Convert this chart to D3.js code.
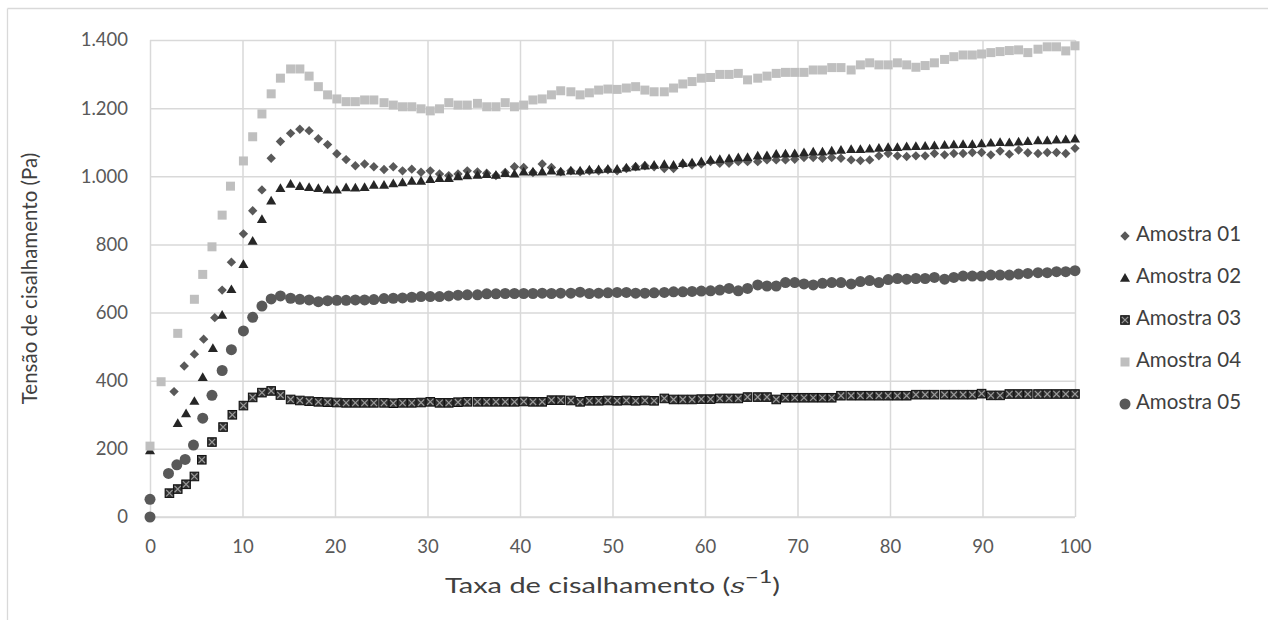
<!DOCTYPE html>
<html>
<head>
<meta charset="utf-8">
<script src="https://cdn.jsdelivr.net/npm/d3@7"></script>
<style>
  body { margin: 0; background: #fff; }
  svg { display: block; font-family: Lato, "Open Sans", sans-serif; }
</style>
</head>
<body>
<svg width="1268" height="620"></svg>
<script>
// measured shear rates (s^-1) for the regular part of the ramp
var rates = [10.1, 11.1, 12.1, 13.1, 14.1, 15.2, 16.2, 17.2, 18.2, 19.2,
  20.2, 21.2, 22.2, 23.2, 24.2, 25.3, 26.3, 27.3, 28.3, 29.3,
  30.3, 31.3, 32.3, 33.3, 34.3, 35.4, 36.4, 37.4, 38.4, 39.4,
  40.4, 41.4, 42.4, 43.4, 44.4, 45.5, 46.5, 47.5, 48.5, 49.5,
  50.5, 51.5, 52.5, 53.5, 54.5, 55.6, 56.6, 57.6, 58.6, 59.6,
  60.6, 61.6, 62.6, 63.6, 64.6, 65.7, 66.7, 67.7, 68.7, 69.7,
  70.7, 71.7, 72.7, 73.7, 74.7, 75.8, 76.8, 77.8, 78.8, 79.8,
  80.8, 81.8, 82.8, 83.8, 84.8, 85.9, 86.9, 87.9, 88.9, 89.9,
  90.9, 91.9, 92.9, 93.9, 94.9, 96.0, 97.0, 98.0, 99.0, 100.0];

// start-up points (rate, stress) for each sample
var head01 = [[2.6,368],[3.7,443],[4.8,478],[5.8,522],[7.0,585],[7.8,666],[8.8,748]];
var head02 = [[0,195],[3.0,275],[3.9,304],[4.8,340],[5.7,410],[6.8,495],[7.8,593],[8.8,668]];
var head03 = [[2.1,70],[3.0,82],[3.9,96],[4.8,119],[5.6,168],[6.7,220],[7.9,264],[8.9,300]];
var head04 = [[0,208],[1.2,397],[3.0,539],[4.8,639],[5.7,712],[6.7,793],[7.8,886],[8.7,971]];
var head05 = [[0,0],[0,52],[2.0,128],[2.9,153],[3.8,169],[4.7,211],[5.7,290],[6.7,357],[7.8,430],[8.8,491]];

// stress (Pa) at each of the rates above
var amostra01 = [831, 899, 960, 1053, 1102, 1126, 1138, 1134, 1110, 1093, 1066, 1049,
  1031, 1036, 1028, 1020, 1028, 1016, 1021, 1012, 1016, 1007, 1002, 1007, 1016, 1013, 1009, 1002, 1011, 1028,
  1026, 1011, 1036, 1026, 1013, 1016, 1013, 1016, 1016, 1019, 1016, 1023, 1028, 1031, 1028, 1023, 1023, 1036,
  1033, 1036, 1043,
  1038, 1038, 1043, 1043, 1043, 1048, 1048, 1048, 1050, 1055, 1055, 1053, 1055, 1053, 1048, 1046, 1048, 1060,
  1067, 1060, 1058, 1060, 1060, 1067, 1063, 1067, 1067, 1070, 1070, 1063, 1074, 1065, 1077, 1069, 1067, 1070,
  1070, 1067, 1082];
var amostra02 = [742, 810, 874, 928, 965, 977, 971, 968, 965, 960, 960, 967,
  966, 968, 974, 974, 979, 982, 986, 986, 991, 994, 994, 999, 1002, 1004, 1006, 1004, 1009, 1007,
  1013, 1013, 1013, 1016, 1013, 1016, 1016, 1019, 1020, 1021, 1021, 1025, 1028, 1031, 1033, 1035, 1033, 1038,
  1040, 1043, 1048,
  1050, 1052, 1055, 1056, 1060, 1061, 1065, 1066, 1067, 1070, 1072, 1072, 1075, 1077, 1079, 1079, 1081, 1083,
  1085, 1085, 1087, 1088, 1089, 1090, 1092, 1093, 1094, 1094, 1096, 1098, 1100, 1099, 1101, 1103, 1105, 1105,
  1107, 1108, 1110];
var amostra03 = [327, 351, 365, 370, 358, 345, 342, 340, 338, 337, 336, 335,
  335, 335, 335, 335, 334, 335, 335, 336, 338, 335, 335, 337, 338, 338, 338, 338, 338, 338,
  339, 338, 338, 343, 343, 342, 338, 341, 341, 342, 341, 342, 341, 342, 341, 348, 345, 345,
  345, 346, 346,
  348, 348, 348, 352, 352, 352, 345, 350, 350, 350, 350, 350, 350, 356, 356, 356, 356, 356,
  356, 356, 356, 359, 359, 359, 359, 359, 359, 359, 362, 357, 357, 361, 361, 361, 361, 361,
  361, 361, 361];
var amostra04 = [1045, 1116, 1183, 1242, 1288, 1315, 1315, 1294, 1263, 1239, 1227, 1219,
  1219, 1224, 1224, 1216, 1209, 1204, 1204, 1198, 1192, 1198, 1216, 1209, 1209, 1214, 1204, 1204, 1216, 1204,
  1209, 1224, 1227, 1239, 1251, 1248, 1239, 1245, 1253, 1256, 1255, 1259, 1263, 1253, 1248, 1248, 1259, 1271,
  1278, 1288, 1290,
  1299, 1299, 1302, 1283, 1288, 1294, 1302, 1305, 1305, 1305, 1312, 1312, 1319, 1319, 1312, 1327, 1333, 1327,
  1327, 1333, 1327, 1320, 1325, 1333, 1343, 1351, 1356, 1356, 1359, 1363, 1366, 1369, 1371, 1363, 1373, 1380,
  1380, 1368, 1383];
var amostra05 = [546, 586, 619, 640, 649, 642, 639, 637, 632, 635, 636, 636,
  637, 637, 638, 641, 642, 643, 645, 647, 647, 647, 649, 651, 652, 652, 655, 655, 656, 656,
  656, 656, 657, 656, 657, 657, 660, 656, 657, 658, 659, 659, 657, 657, 658, 659, 661, 661,
  662, 663, 664,
  666, 671, 664, 671, 681, 678, 678, 688, 688, 684, 681, 686, 688, 688, 684, 691, 694, 688,
  697, 700, 698, 700, 700, 703, 698, 703, 707, 707, 707, 710, 710, 710, 713, 715, 717, 717,
  720, 720, 723];

var seriesNames = ['Amostra 01', 'Amostra 02', 'Amostra 03', 'Amostra 04', 'Amostra 05'];
var xTicks = [0, 10, 20, 30, 40, 50, 60, 70, 80, 90, 100];
var yTicks = [0, 200, 400, 600, 800, 1000, 1200, 1400];

var heads = [head01, head02, head03, head04, head05];
var tails = [amostra01, amostra02, amostra03, amostra04, amostra05];

var series = seriesNames.map(function(name, i){
  var pts = heads[i].map(function(p){ return {x: p[0], y: p[1]} })
  tails[i].forEach(function(v, j){ pts.push({x: rates[j], y: v}) })
  return {name: name, kind: i, points: pts}
})

var svg = d3.select('svg')
var grid = '#d9d9d9'

var margins = {left: 150, right: 193, top: 40, bottom: 103}
var xScale = d3.scaleLinear().domain([0, 100]).range([margins.left, 1268 - margins.right])
var yScale = d3.scaleLinear().domain([0, 1400]).range([620 - margins.bottom, margins.top])

var ptBr = d3.formatLocale({decimal: ',', thousands: '.', grouping: [3], currency: ['R$', '']})
var fmt = ptBr.format(',')

// chart border (only top and left visible in the crop)
svg.append('line').attr('x1', 7.5).attr('x2', 1268).attr('y1', 8.5).attr('y2', 8.5)
  .attr('stroke', grid).attr('stroke-width', 1.3)
svg.append('line').attr('x1', 7.5).attr('x2', 7.5).attr('y1', 8.5).attr('y2', 620)
  .attr('stroke', grid).attr('stroke-width', 1.3)

// gridlines
var yAxis = svg.append('g')
  .attr('transform', 'translate(' + margins.left + ',0)')
  .call(d3.axisLeft(yScale).tickValues(yTicks).tickFormat(fmt)
    .tickSize(-(xScale(100) - xScale(0))).tickPadding(22))
var xAxis = svg.append('g')
  .attr('transform', 'translate(0,' + yScale(0) + ')')
  .call(d3.axisBottom(xScale).tickValues(xTicks)
    .tickSize(-(yScale(0) - yScale(1400))).tickPadding(23))

;[yAxis, xAxis].forEach(function(ax){
  ax.select('.domain').remove()
  ax.selectAll('line').attr('stroke', grid).attr('stroke-width', 1.5)
  ax.selectAll('text').attr('fill', '#595959').attr('font-size', '18.5px')
    .attr('font-family', 'Lato, sans-serif')
})
svg.append('line').attr('x1', xScale(0)).attr('x2', xScale(100))
  .attr('y1', yScale(0)).attr('y2', yScale(0)).attr('stroke', grid).attr('stroke-width', 1.5)

// markers
var styles = [
  {fill: '#595959'},
  {fill: '#262626'},
  {fill: '#333333'},
  {fill: '#bfbfbf'},
  {fill: '#595959'}
]

var drawMarker = function(g, kind){
  if (kind == 0){
    g.append('path').attr('d', d3.symbol().type(d3.symbolSquare).size(44)())
      .attr('transform', 'rotate(45)').attr('fill', styles[0].fill)
  } else if (kind == 1){
    g.append('path').attr('d', d3.symbol().type(d3.symbolTriangle).size(44)())
      .attr('transform', 'translate(0,0.8)').attr('fill', styles[1].fill)
  } else if (kind == 2){
    g.append('rect').attr('x', -4.3).attr('y', -4.3).attr('width', 8.6).attr('height', 8.6)
      .attr('fill', styles[2].fill).attr('stroke', '#111').attr('stroke-width', 1)
    g.append('path').attr('d', 'M-3.2,-3.2L3.2,3.2M-3.2,3.2L3.2,-3.2')
      .attr('stroke', '#9a9a9a').attr('stroke-width', 1.2)
  } else if (kind == 3){
    g.append('rect').attr('x', -4.5).attr('y', -4.5).attr('width', 9).attr('height', 9)
      .attr('fill', styles[3].fill)
  } else {
    g.append('circle').attr('r', 5.5).attr('fill', styles[4].fill)
  }
}

var plot = svg.append('g')
series.forEach(function(s){
  plot.append('g').selectAll('g')
    .data(s.points)
    .enter()
    .append('g')
    .attr('transform', function(d){ return 'translate(' + xScale(d.x) + ',' + yScale(d.y) + ')' })
    .each(function(){ drawMarker(d3.select(this), s.kind) })
})

// axis titles
svg.append('text')
  .attr('transform', 'translate(32,' + ((yScale(0) + yScale(1400)) / 2) + ') rotate(-90)')
  .attr('text-anchor', 'middle').attr('dominant-baseline', 'middle')
  .attr('font-size', '20.5px').attr('fill', '#404040')
  .text('Tensão de cisalhamento (Pa)')

var xt = svg.append('text')
  .attr('x', (xScale(0) + xScale(100)) / 2).attr('y', 593)
  .attr('text-anchor', 'middle')
  .attr('font-size', '21px').attr('fill', '#404040')
  .attr('textLength', 335).attr('lengthAdjust', 'spacingAndGlyphs')
xt.append('tspan').text('Taxa de cisalhamento (')
xt.append('tspan').attr('font-style', 'italic').attr('font-family', '"DejaVu Serif", serif').text('s')
xt.append('tspan').attr('dy', -10).attr('font-size', '17px').text('−1')
xt.append('tspan').attr('dy', 10).text(')')

// legend
var legend = svg.append('g')
seriesNames.forEach(function(name, i){
  var row = legend.append('g').attr('transform', 'translate(1125,' + (236 + i * 42) + ')')
  drawMarker(row.append('g'), i)
  row.append('text').attr('x', 11).attr('dominant-baseline', 'middle')
    .attr('font-size', '20.5px').attr('fill', '#404040').text(name)
})
</script>
</body>
</html>
